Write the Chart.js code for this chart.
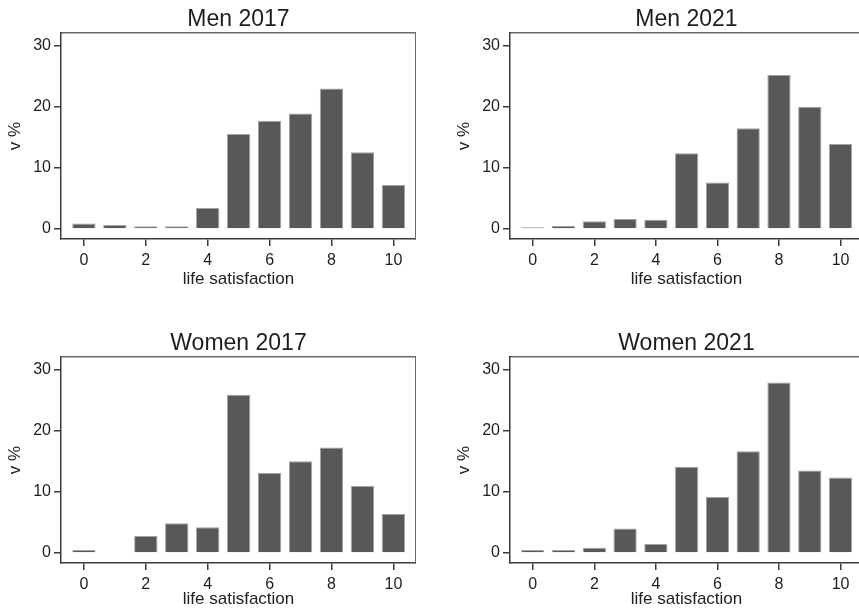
<!DOCTYPE html>
<html>
<head>
<meta charset="utf-8">
<title>Life satisfaction by sex, 2017 and 2021</title>
<script src="https://cdn.jsdelivr.net/npm/chart.js@4/dist/chart.umd.min.js"></script>
<style>
  html, body { margin: 0; padding: 0; background: #fff; overflow: hidden; }
  #page { position: relative; width: 859px; height: 613px; overflow: hidden; background: #fff; }
  #page canvas { position: absolute; }
</style>
</head>
<body>
<div id="page">
  <canvas id="menA" width="416" height="300" style="left:0;top:0"></canvas>
  <canvas id="menB" width="414" height="300" style="left:449px;top:0"></canvas>
  <canvas id="womenA" width="416" height="300" style="left:0;top:324px"></canvas>
  <canvas id="womenB" width="414" height="300" style="left:449px;top:324px"></canvas>
</div>
<script>
// Life satisfaction score (0 = lowest, 10 = highest)
const scores = [0, 1, 2, 3, 4, 5, 6, 7, 8, 9, 10];
const xTickValues = [0, 2, 4, 6, 8, 10];
const yTickValues = [0, 10, 20, 30];

// Share of respondents (%) at each score
const men2017   = [0.9, 0.65, 0.45, 0.45, 3.45, 15.55, 17.7, 18.9, 23.0, 12.55, 7.2];
const men2021   = [0.27, 0.5, 1.25, 1.65, 1.5, 12.4, 7.6, 16.5, 25.2, 20.0, 13.9];
const women2017 = [0.5, 0, 2.8, 4.85, 4.2, 25.9, 13.1, 15.0, 17.25, 10.95, 6.4];
const women2021 = [0.5, 0.5, 0.85, 4.0, 1.45, 14.1, 9.15, 16.65, 27.9, 13.5, 12.35];

const panelTitles = ['Men 2017', 'Men 2021', 'Women 2017', 'Women 2021'];
const xTitle = 'life satisfaction';
const yTitle = 'v %';

const FONT = '"Liberation Sans", Arial, Helvetica, sans-serif';
const TEXT = '#1e1e1e';
const AXIS = '#3c3c3c';
const FRAME = '#6a6a6a';
const BAR = '#58585a';
const BAR_EDGE = '#a3a3a3';

const X_MIN = -0.74, X_MAX = 10.73;
const Y_MIN = -1.64, Y_MAX = 32.08;

function fixedTicks(values) {
  return scale => { scale.ticks = values.map(v => ({ value: v })); };
}

function drawPanel(canvasId, title, values, xTitlePad) {
  const points = scores.map((s, i) => ({ x: s, y: values[i] }));
  return new Chart(document.getElementById(canvasId), {
    type: 'bar',
    data: {
      datasets: [{
        data: points,
        backgroundColor: BAR,
        borderColor: BAR_EDGE,
        borderWidth: 1,
        categoryPercentage: 1,
        barPercentage: 0.755
      }]
    },
    options: {
      responsive: false,
      animation: false,
      layout: { padding: 0 },
      plugins: { legend: { display: false }, tooltip: { enabled: false }, title: { display: false } },
      scales: {
        x: {
          type: 'linear', position: 'bottom', min: X_MIN, max: X_MAX, offset: false,
          afterBuildTicks: fixedTicks(xTickValues),
          afterFit: s => { s.height = 61; },
          grid: { display: true, offset: false, drawOnChartArea: false, drawTicks: true, tickLength: 7, tickColor: AXIS, lineWidth: 1.5 },
          border: { display: true, color: AXIS, width: 1.5 },
          ticks: { color: TEXT, padding: 5, font: { family: FONT, size: 16 }, maxRotation: 0, autoSkip: false },
          title: { display: true, text: xTitle, color: TEXT, font: { family: FONT, size: 17 }, padding: { top: 0, bottom: xTitlePad } }
        },
        top: {
          type: 'linear', position: 'top', min: X_MIN, max: X_MAX, offset: false, display: true,
          afterBuildTicks: fixedTicks(xTickValues),
          afterFit: s => { s.height = 33; },
          grid: { display: false, offset: false, drawTicks: false },
          border: { display: true, color: FRAME, width: 1.5 },
          ticks: { display: false },
          title: { display: true, text: title, color: TEXT, font: { family: FONT, size: 23 }, padding: { top: 5.6, bottom: 0 } }
        },
        y: {
          type: 'linear', position: 'left', min: Y_MIN, max: Y_MAX,
          afterBuildTicks: fixedTicks(yTickValues),
          afterFit: s => { s.width = 61; },
          grid: { display: true, drawOnChartArea: false, drawTicks: true, tickLength: 7, tickColor: AXIS, lineWidth: 1.5 },
          border: { display: true, color: AXIS, width: 1.5 },
          ticks: { color: TEXT, padding: 3, font: { family: FONT, size: 16 } },
          title: { display: true, text: yTitle, color: TEXT, font: { family: FONT, size: 17 }, padding: { top: 5, bottom: 0 } }
        },
        right: {
          type: 'linear', position: 'right', min: Y_MIN, max: Y_MAX, display: true,
          afterBuildTicks: fixedTicks(yTickValues),
          afterFit: s => { s.width = 0; },
          grid: { display: false, drawTicks: false },
          border: { display: true, color: FRAME, width: 1.5 },
          ticks: { display: false }
        }
      }
    }
  });
}

drawPanel('menA', panelTitles[0], men2017, 10);
drawPanel('menB', panelTitles[1], men2021, 10);
drawPanel('womenA', panelTitles[2], women2017, 14);
drawPanel('womenB', panelTitles[3], women2021, 14);
</script>
</body>
</html>
